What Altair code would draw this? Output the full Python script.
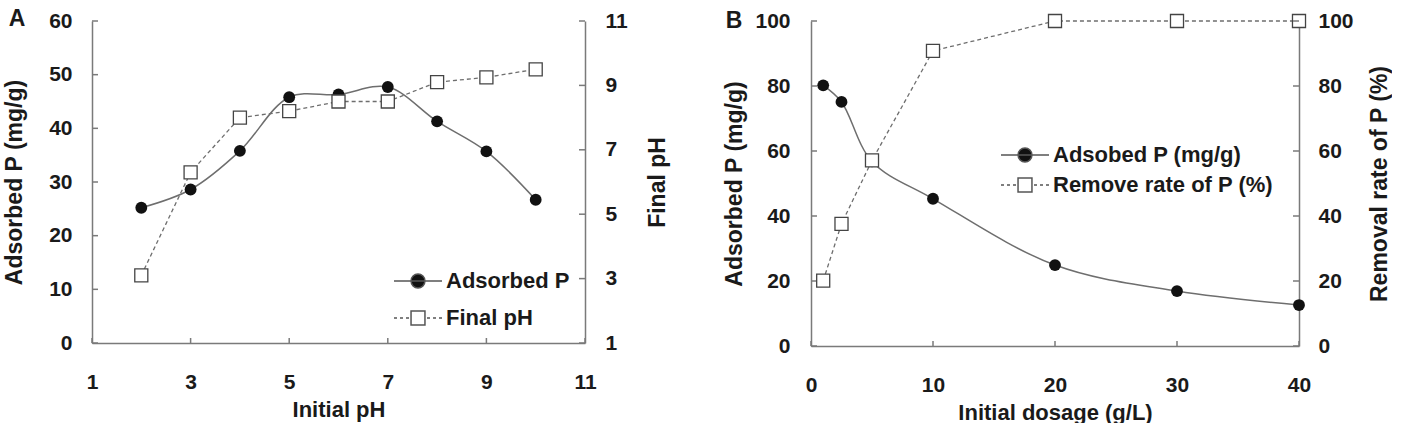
import altair as alt
import pandas as pd

# ---------------- data ----------------
A_PH = [2, 3, 4, 5, 6, 7, 8, 9, 10]
A_ADSORBED = [25.2, 28.6, 35.8, 45.8, 46.3, 47.7, 41.3, 35.7, 26.7]
A_FINAL_PH = [3.1, 6.3, 8.0, 8.2, 8.5, 8.5, 9.1, 9.25, 9.5]
A_X_TICKS = [1, 3, 5, 7, 9, 11]
A_Y_TICKS = [0, 10, 20, 30, 40, 50, 60]
A_Y2_TICKS = [1, 3, 5, 7, 9, 11]
A_SERIES = ["Adsorbed P", "Final pH"]

B_DOSE = [1, 2.5, 5, 10, 20, 30, 40]
B_ADSORBED = [80.2, 75.1, 56.8, 45.3, 24.9, 16.9, 12.6]
B_REMOVAL = [20.1, 37.6, 57.1, 90.8, 100, 100, 100]
B_X_TICKS = [0, 10, 20, 30, 40]
B_Y_TICKS = [0, 20, 40, 60, 80, 100]
B_SERIES = ["Adsobed P (mg/g)", "Remove rate of P (%)"]

# ---------------- style ----------------
FONT = "Liberation Sans, Arial, Helvetica, sans-serif"
AXIS_COLOR = "#7a7a7a"
LINE_COLOR = "#6e6e6e"
TEXT_COLOR = "#1a1a1a"

# legend symbols: line with marker (units of sqrt(size)/2 px)
PATH_CIRCLE = "M-2,0H2M0.58,0A0.58,0.58,0,1,1,-0.58,0A0.58,0.58,0,1,1,0.58,0Z"
PATH_SQUARE = ("M-2,0H-1.75M-1.5,0H-1.25M-1,0H-0.75"
               "M0.75,0H1M1.25,0H1.5M1.75,0H2"
               "M-0.58,-0.58H0.58V0.58H-0.58Z")


def ticks_y(values, scale, axis, x0, x1):
    return alt.Chart(pd.DataFrame({"v": values})).mark_rule(
        color=AXIS_COLOR, strokeWidth=1.5
    ).encode(y=alt.Y("v:Q", scale=scale, axis=axis), x=alt.value(x0), x2=alt.value(x1))


def ticks_x(values, scale, axis, h):
    return alt.Chart(pd.DataFrame({"v": values})).mark_rule(
        color=AXIS_COLOR, strokeWidth=1.5
    ).encode(x=alt.X("v:Q", scale=scale, axis=axis), y=alt.value(h), y2=alt.value(h - 5))


def legend_layer(series, lx, ly, row_pad):
    leg = alt.Legend(
        title=None, orient="none", legendX=lx, legendY=ly, padding=0,
        labelFont=FONT, labelFontSize=22, labelFontWeight="bold", labelColor=TEXT_COLOR,
        labelOffset=15, labelLimit=500, rowPadding=row_pad, symbolSize=576, symbolStrokeWidth=1.5,
        symbolOpacity=1,
    )
    return alt.Chart(pd.DataFrame({"series": series})).mark_point(
        filled=True, opacity=0, strokeWidth=1.5
    ).encode(
        x=alt.value(0), y=alt.value(0),
        shape=alt.Shape("series:N", scale=alt.Scale(domain=series, range=[PATH_CIRCLE, PATH_SQUARE]), legend=leg),
        fill=alt.Fill("series:N", scale=alt.Scale(domain=series, range=["#111111", "#ffffff"]), legend=leg),
        stroke=alt.Stroke("series:N", scale=alt.Scale(domain=series, range=["#555555", "#555555"]), legend=leg),
    )


def letter_layer(letter, x, y):
    return alt.Chart(pd.DataFrame({"t": [letter]})).mark_text(
        font=FONT, fontSize=23, fontWeight="bold", color=TEXT_COLOR, align="center", baseline="middle"
    ).encode(text="t:N", x=alt.value(x), y=alt.value(y))


def panel(df, xf, y1f, y2f, x_dom, y1_dom, y2_dom, x_ticks, y1_ticks, y2_ticks,
          W, H, x_title, y1_title, y2_title, series, legend_xy, row_pad, letter, letter_xy,
          y1_lp, y1_tp, y2_lp, y2_tp):
    xs = alt.Scale(domain=x_dom, nice=False, zero=False)
    y1s = alt.Scale(domain=y1_dom, nice=False, zero=False)
    y2s = alt.Scale(domain=y2_dom, nice=False, zero=False)
    base = alt.Chart(df)
    x_axis = alt.Axis(values=x_ticks, title=x_title, labelPadding=28, titlePadding=7,
                      labelFlush=False, labelOverlap=False)
    y1_axis = alt.Axis(values=y1_ticks, title=y1_title, labelPadding=y1_lp, titlePadding=y1_tp,
                       titleFontSize=23, labelFlush=False, labelOverlap=False)
    y2_axis = alt.Axis(values=y2_ticks, title=y2_title, orient="right", labelPadding=y2_lp,
                       titlePadding=y2_tp, titleAngle=270, titleBaseline="top", titleFontSize=23,
                       labelFlush=False, labelOverlap=False)

    line1 = base.mark_line(interpolate="catmull-rom", color=LINE_COLOR, strokeWidth=1.5).encode(
        x=alt.X(f"{xf}:Q", scale=xs, axis=x_axis),
        y=alt.Y(f"{y1f}:Q", scale=y1s, axis=y1_axis),
    )
    pts1 = base.mark_circle(color="#111111", size=140, opacity=1).encode(
        x=alt.X(f"{xf}:Q", scale=xs, axis=x_axis),
        y=alt.Y(f"{y1f}:Q", scale=y1s, axis=y1_axis),
    )
    left = alt.layer(
        line1, pts1,
        ticks_y(y1_ticks, y1s, y1_axis, 0, 6),
        ticks_x(x_ticks, xs, x_axis, H),
        legend_layer(series, legend_xy[0], legend_xy[1], row_pad),
        letter_layer(letter, letter_xy[0], letter_xy[1]),
    )

    line2 = base.mark_line(color=LINE_COLOR, strokeWidth=1.3, strokeDash=[4, 3]).encode(
        x=alt.X(f"{xf}:Q", scale=xs, axis=x_axis),
        y=alt.Y(f"{y2f}:Q", scale=y2s, axis=y2_axis),
    )
    pts2 = base.mark_point(shape="square", size=170, filled=True, fill="#ffffff",
                           stroke="#444444", strokeWidth=1.3, opacity=1).encode(
        x=alt.X(f"{xf}:Q", scale=xs, axis=x_axis),
        y=alt.Y(f"{y2f}:Q", scale=y2s, axis=y2_axis),
    )
    right = alt.layer(line2, pts2, ticks_y(y2_ticks, y2s, y2_axis, W - 6, W))

    return alt.layer(left, right).resolve_scale(y="independent").properties(width=W, height=H)


dfA = pd.DataFrame({"ph": A_PH, "ads": A_ADSORBED, "fin": A_FINAL_PH})
dfB = pd.DataFrame({"dose": B_DOSE, "ads": B_ADSORBED, "rem": B_REMOVAL})

chartA = panel(dfA, "ph", "ads", "fin", [1, 11], [0, 60], [1, 11],
               A_X_TICKS, A_Y_TICKS, A_Y2_TICKS, 493, 322,
               "Initial pH", "Adsorbed P (mg/g)", "Final pH", A_SERIES,
               (313, 247), 13, "A", (-75, -2), 20, 22, 20, 19)

chartB = panel(dfB, "dose", "ads", "rem", [0, 40], [0, 100], [0, 100],
               B_X_TICKS, B_Y_TICKS, B_Y_TICKS, 488, 325,
               "Initial dosage (g/L)", "Adsorbed P (mg/g)", "Removal rate of P (%)", B_SERIES,
               (201, 121), 6, "B", (-77, 0), 21, 8, 19, 15)

chart = alt.hconcat(chartA, chartB, spacing=53).resolve_scale(
    shape="independent", fill="independent", stroke="independent"
).resolve_legend(
    shape="independent", fill="independent", stroke="independent"
).properties(
    padding={"left": 3, "top": 8, "right": 0, "bottom": 0},
    background="white",
).configure_view(stroke=None).configure_axis(
    labelFont=FONT, labelFontSize=21, labelFontWeight="bold", labelColor=TEXT_COLOR,
    titleFont=FONT, titleFontSize=22, titleFontWeight="bold", titleColor=TEXT_COLOR,
    domainColor=AXIS_COLOR, domainWidth=1.5, grid=False, ticks=False, tickSize=0,
).configure_legend(
    symbolOpacity=1
)

chart.save("out.html", embed_options={"renderer": "svg", "actions": False})
